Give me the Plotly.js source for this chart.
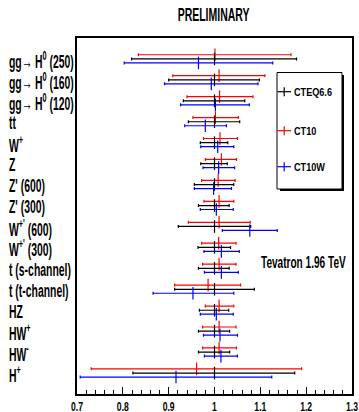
<!DOCTYPE html>
<html>
<head>
<meta charset="utf-8">
<script src="https://cdn.plot.ly/plotly-3.0.1.min.js"></script>
<style>
  html, body { margin: 0; padding: 0; background: #fff; }
  #chart { width: 359px; height: 412px; }
</style>
</head>
<body>
<div id="chart"></div>
<script>
// ---------------- data ----------------
const categories = [
  'gg\u2192 H<sup>0</sup> (250)',
  'gg\u2192 H<sup>0</sup> (160)',
  'gg\u2192 H<sup>0</sup> (120)',
  'tt',
  'W<sup>+</sup>',
  'Z',
  "Z' (600)",
  "Z' (300)",
  "W<sup>+'</sup> (600)",
  "W<sup>+'</sup> (300)",
  't (s-channel)',
  't (t-channel)',
  'HZ',
  'HW<sup>+</sup>',
  'HW<sup>-</sup>',
  'H<sup>+</sup>'
];

// CTEQ6.6 (black)
const cteqCenter = [1.000, 1.000, 1.000, 1.000, 1.000, 1.000, 1.000, 1.000, 1.000, 1.000, 1.000, 1.000, 1.000, 1.000, 1.000, 1.000];
const cteqLow    = [0.819, 0.900, 0.932, 0.943, 0.969, 0.970, 0.956, 0.965, 0.921, 0.964, 0.965, 0.913, 0.967, 0.965, 0.965, 0.822];
const cteqHigh   = [1.179, 1.098, 1.066, 1.055, 1.029, 1.028, 1.042, 1.032, 1.079, 1.035, 1.032, 1.087, 1.031, 1.033, 1.033, 1.175];

// CT10 (red)
const ct10Center = [1.001, 1.010, 1.011, 1.002, 1.012, 1.015, 1.008, 1.010, 1.010, 1.009, 1.010, 0.986, 1.010, 1.010, 1.010, 0.961];
const ct10Low    = [0.834, 0.909, 0.940, 0.953, 0.976, 0.980, 0.972, 0.977, 0.943, 0.972, 0.974, 0.913, 0.980, 0.974, 0.974, 0.731];
const ct10High   = [1.167, 1.110, 1.084, 1.052, 1.050, 1.048, 1.045, 1.042, 1.078, 1.047, 1.047, 1.057, 1.042, 1.047, 1.048, 1.190];

// CT10W (blue)
const ct10wCenter = [0.965, 0.993, 1.002, 0.980, 1.007, 1.009, 0.998, 1.004, 1.077, 1.015, 1.015, 0.953, 1.004, 1.012, 1.014, 0.916];
const ct10wLow    = [0.803, 0.891, 0.926, 0.935, 0.970, 0.975, 0.956, 0.969, 1.017, 0.977, 0.978, 0.866, 0.969, 0.976, 0.978, 0.707];
const ct10wHigh   = [1.127, 1.095, 1.076, 1.026, 1.042, 1.044, 1.037, 1.041, 1.137, 1.054, 1.052, 1.042, 1.041, 1.050, 1.050, 1.125];

const seriesNames = ['CTEQ6.6', 'CT10', 'CT10W'];
const xTickVals = [0.7, 0.8, 0.9, 1.0, 1.1, 1.2, 1.3];
const xTickText = ['0.7', '0.8', '0.9', '1', '1.1', '1.2', '1.3'];

// ---------------- styling / layout ----------------
const FONT = '"Liberation Sans", Arial, sans-serif';
const W = 359, H = 412;
const M = { l: 77, r: 7, t: 38, b: 18 };
const PW = W - M.l - M.r, PH = H - M.t - M.b;
const X = px => (px - M.l) / PW;      // pixel -> paper
const Y = py => (H - M.b - py) / PH;

function makeTrace(center, low, high, color, offset) {
  const idx = categories.map((_, i) => i + offset);
  return {
    type: 'scatter', mode: 'markers',
    x: center, y: idx,
    marker: { symbol: 'line-ns-open', size: 9, color: color, line: { color: color, width: 1.2 } },
    error_x: {
      type: 'data', symmetric: false,
      array: high.map((h, i) => h - center[i]),
      arrayminus: low.map((l, i) => center[i] - l),
      color: color, thickness: 1.2, width: 1.5
    },
    showlegend: false, hoverinfo: 'skip', cliponaxis: false
  };
}

const traces = [
  makeTrace(ct10Center, ct10Low, ct10High, '#ff0000', -0.2),
  makeTrace(cteqCenter, cteqLow, cteqHigh, '#000000', 0),
  makeTrace(ct10wCenter, ct10wLow, ct10wHigh, '#0000ff', 0.19)
];

const annotations = categories.map((c, i) => ({
  text: c, xref: 'paper', yref: 'y', x: X(6.5), y: i + 0.05,
  xanchor: 'left', yanchor: 'middle', align: 'left', showarrow: false,
  font: { family: FONT, size: 18.5, color: '#000', weight: 700 }
}));

// Tevatron label
annotations.push({
  text: 'Tevatron 1.96 TeV', xref: 'paper', yref: 'paper', x: X(259), y: Y(262),
  xanchor: 'left', yanchor: 'middle', align: 'left', showarrow: false,
  font: { family: FONT, size: 16, color: '#000', weight: 700 }
});

// legend (drawn manually)
const legendColors = ['#000000', '#ff0000', '#0000ff'];
const legendY = [91.7, 130.7, 166.7];
const shapes = [
  { type: 'rect', xref: 'paper', yref: 'paper', x0: X(280), x1: X(344), y0: Y(191), y1: Y(75),
    fillcolor: '#000', line: { width: 0 } },
  { type: 'rect', xref: 'paper', yref: 'paper', x0: X(277), x1: X(342), y0: Y(189), y1: Y(72.5),
    fillcolor: '#fff', line: { color: '#000', width: 1 } }
];
seriesNames.forEach((n, k) => {
  shapes.push({ type: 'line', xref: 'paper', yref: 'paper', x0: X(277.5), x1: X(291), y0: Y(legendY[k]), y1: Y(legendY[k]),
    line: { color: legendColors[k], width: 1.2 } });
  shapes.push({ type: 'line', xref: 'paper', yref: 'paper', x0: X(284.2), x1: X(284.2), y0: Y(legendY[k] - 4.5), y1: Y(legendY[k] + 4.5),
    line: { color: legendColors[k], width: 1.2 } });
  annotations.push({
    text: n, xref: 'paper', yref: 'paper', x: X(291.5), y: Y(legendY[k]),
    xanchor: 'left', yanchor: 'middle', align: 'left', showarrow: false,
    font: { family: FONT, size: 11, color: '#000', weight: 700 }
  });
});

const layout = {
  width: W, height: H,
  margin: M,
  paper_bgcolor: '#fff', plot_bgcolor: '#fff',
  showlegend: false,
  title: {
    text: 'PRELIMINARY', x: X(213.5), xref: 'paper', xanchor: 'center',
    y: 1 - 14.5 / H, yref: 'container', yanchor: 'middle',
    font: { family: FONT, size: 19, color: '#000', weight: 700 }
  },
  xaxis: {
    range: [0.7, 1.3], tickvals: xTickVals, ticktext: xTickText,
    ticks: 'inside', ticklen: 7, tickwidth: 1, tickcolor: '#000',
    minor: { dtick: 0.02, ticks: 'inside', ticklen: 4, tickwidth: 1, tickcolor: '#000' },
    showline: true, linecolor: '#000', linewidth: 2, mirror: true,
    showgrid: false, zeroline: false,
    tickfont: { family: FONT, size: 12.5, color: '#000', weight: 700 },
    ticklabelstandoff: 0, ticklabeloverflow: 'allow'
  },
  yaxis: {
    range: [16, -1], showticklabels: false, ticks: '',
    showline: true, linecolor: '#000', linewidth: 2, mirror: true,
    showgrid: false, zeroline: false
  },
  annotations: annotations,
  shapes: shapes
};

// squeeze a text element horizontally about its own box (reference text is condensed)
function squeeze(el, sx, origin) {
  const b = el.getBBox();
  const ox = origin === 'left' ? b.x : b.x + b.width / 2;
  const prev = el.getAttribute('transform') || '';
  el.setAttribute('transform',
    prev + ' translate(' + ox + ',0) scale(' + sx + ',1) translate(' + (-ox) + ',0)');
}

Plotly.newPlot('chart', traces, layout, { staticPlot: true, displayModeBar: false }).then(gd => {
  const annTexts = [];
  gd.querySelectorAll('g.annotation').forEach(g => {
    const i = +g.getAttribute('data-index');
    const t = g.querySelector('text.annotation-text');
    if (t) annTexts[i] = t;
  });
  const nC = categories.length;
  // category labels: target width of "t (s-channel)" ~62 px
  const sxLab = 62 / annTexts[10].getBBox().width;
  for (let i = 0; i < nC; i++) squeeze(annTexts[i], sxLab, 'left');
  // Tevatron label: ~85 px wide
  squeeze(annTexts[nC], 85 / annTexts[nC].getBBox().width, 'left');
  // legend texts: "CTEQ6.6" ~38 px wide
  const sxLeg = 38 / annTexts[nC + 1].getBBox().width;
  for (let k = 0; k < seriesNames.length; k++) squeeze(annTexts[nC + 1 + k], sxLeg, 'left');
  // title: ~72 px wide
  const tt = gd.querySelector('.gtitle');
  if (tt) squeeze(tt, 72 / tt.getBBox().width, 'center');
  // x tick labels: "0.7" ~12 px wide
  const ticks = gd.querySelectorAll('g.xtick text');
  if (ticks.length) {
    const sxT = 12 / ticks[0].getBBox().width;
    ticks.forEach(t => squeeze(t, sxT, 'center'));
  }
});
</script>
</body>
</html>
